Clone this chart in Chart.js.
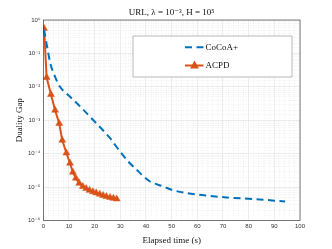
<!DOCTYPE html>
<html>
<head>
<meta charset="utf-8">
<script src="https://cdn.jsdelivr.net/npm/chart.js@4.4.0/dist/chart.umd.min.js"></script>
<style>
  html, body { margin: 0; padding: 0; background: #fff; }
  #wrap { width: 332px; height: 249px; }
</style>
</head>
<body>
<div id="wrap"><canvas id="gap-chart" width="332" height="249"></canvas></div>
<script>
// values
const cocoaTime = [0.3, 2.9, 3.9, 6.5, 9.7, 14.3, 19.5, 26, 29.9, 33.1, 36.4, 39.0, 41.6, 46.8, 50, 55.9, 61, 71.4, 81.8, 94.2];
const cocoaGap = [0.5, 0.045, 0.027, 0.01, 5.7e-3, 2.6e-3, 1.0e-3, 2.9e-4, 1.16e-4, 5.8e-5, 3.3e-5, 2.1e-5, 1.47e-5, 1.04e-5, 8.3e-6, 6.6e-6, 5.9e-6, 4.9e-6, 4.4e-6, 3.7e-6];

const acpdTime = [0.3, 1.3, 3.0, 4.6, 6.2, 7.4, 9.0, 10.4, 11.5, 12.7, 14.0, 15.4, 16.7, 18.0, 19.3, 20.6, 22.0, 23.3, 24.6, 26.0, 27.3, 28.6];
const acpdGap = [0.56, 1.9e-2, 5.9e-3, 2.0e-3, 8e-4, 2.5e-4, 1.05e-4, 5.2e-5, 2.8e-5, 1.85e-5, 1.3e-5, 1.04e-5, 9.0e-6, 8.0e-6, 7.3e-6, 6.7e-6, 6.1e-6, 5.6e-6, 5.2e-6, 4.9e-6, 4.6e-6, 4.4e-6];

const seriesNames = ["CoCoA+", "ACPD"];
const titleText = "URL, \u03bb = 10\u207b\u00b3, H = 10\u2075";

const SERIF = "'Liberation Serif', 'DejaVu Serif', serif";
const SANS = "'Liberation Sans', 'DejaVu Sans', sans-serif";
const BLUE = "#0072BD";
const ORANGE = "#D95319";

const supDigits = { "0": "\u2070", "1": "\u00b9", "2": "\u00b2", "3": "\u00b3", "4": "\u2074", "5": "\u2075", "6": "\u2076", "-": "\u207b" };
const isPower = (v) => {
  const e = Math.round(Math.log10(v));
  return Math.abs(v - Math.pow(10, e)) < 1e-9 * Math.pow(10, e);
};
const powerLabel = (v) => {
  if (!isPower(v)) return "";
  const e = Math.round(Math.log10(v));
  return "10" + String(e).split("").map((c) => supDigits[c]).join("");
};

const toPoints = (xs, ys) => xs.map((x, i) => ({ x: x, y: ys[i] }));

// box around the axes, title and the legend drawn inside the plot
const matlabFrame = {
  id: "matlabFrame",
  afterDraw(chart) {
    const { ctx, chartArea: a } = chart;
    ctx.save();
    ctx.strokeStyle = "#262626";
    ctx.lineWidth = 0.6;
    ctx.strokeRect(a.left, a.top, a.right - a.left, a.bottom - a.top);

    ctx.fillStyle = "#111";
    ctx.font = "9px " + SERIF;
    ctx.textAlign = "center";
    ctx.textBaseline = "middle";
    ctx.fillText(titleText, (a.left + a.right) / 2, 12.5);

    // legend
    const bx = 133, by = 36, bw = 159, bh = 41;
    ctx.fillStyle = "#fff";
    ctx.fillRect(bx, by, bw, bh);
    ctx.strokeStyle = "#8a8a8a";
    ctx.lineWidth = 0.6;
    ctx.strokeRect(bx, by, bw, bh);

    const ds = chart.data.datasets;
    const rows = [47.3, 65.5];
    ds.forEach((d, i) => {
      const y = rows[i];
      ctx.strokeStyle = d.borderColor;
      ctx.lineWidth = 2;
      ctx.setLineDash(d.borderDash || []);
      ctx.beginPath();
      ctx.moveTo(185, y);
      ctx.lineTo(203.5, y);
      ctx.stroke();
      ctx.setLineDash([]);
      if (d.pointStyle === "triangle") {
        ctx.fillStyle = d.pointBackgroundColor;
        ctx.beginPath();
        ctx.moveTo(194.5, y - 5);
        ctx.lineTo(199, y + 3);
        ctx.lineTo(190, y + 3);
        ctx.closePath();
        ctx.fill();
      }
      ctx.fillStyle = "#111";
      ctx.font = "9px " + SERIF;
      ctx.textAlign = "left";
      ctx.fillText(d.label, 205.5, y + 0.5);
    });
    ctx.restore();
  }
};

const ctx = document.getElementById("gap-chart").getContext("2d");
new Chart(ctx, {
  type: "line",
  data: {
    datasets: [
      {
        label: seriesNames[0],
        data: toPoints(cocoaTime, cocoaGap),
        borderColor: BLUE,
        backgroundColor: BLUE,
        borderWidth: 2,
        borderDash: [7, 4.5],
        pointRadius: 0,
        cubicInterpolationMode: "monotone"
      },
      {
        label: seriesNames[1],
        data: toPoints(acpdTime, acpdGap),
        borderColor: ORANGE,
        backgroundColor: ORANGE,
        pointBackgroundColor: ORANGE,
        pointBorderColor: ORANGE,
        borderWidth: 2,
        pointStyle: "triangle",
        pointRadius: 4,
        pointBorderWidth: 0.5,
        tension: 0
      }
    ]
  },
  options: {
    responsive: false,
    animation: false,
    layout: { padding: { top: 20, right: 32, left: 0, bottom: 0 } },
    plugins: {
      legend: { display: false },
      title: { display: false },
      tooltip: { enabled: false }
    },
    scales: {
      x: {
        type: "linear",
        min: 0,
        max: 100,
        afterFit: (scale) => { scale.height = 28.5; },
        ticks: {
          stepSize: 2,
          autoSkip: false,
          maxRotation: 0,
          padding: 2,
          color: "#333",
          font: { family: SANS, size: 6 },
          callback: (v) => (v % 10 === 0 ? String(v) : "")
        },
        grid: {
          drawTicks: false,
          color: (c) => (c.tick && c.tick.value % 10 === 0 ? "#e0e0e0" : "#e8e8e8"),
          lineWidth: 0.6
        },
        border: {
          display: false,
          dash: (c) => (c.tick && c.tick.value % 10 === 0 ? [] : [1, 1.5])
        },
        title: {
          display: true,
          text: "Elapsed time (s)",
          color: "#111",
          font: { family: SERIF, size: 9 },
          padding: { top: 0, bottom: 3 }
        }
      },
      y: {
        type: "logarithmic",
        min: 1e-6,
        max: 1,
        afterFit: (scale) => { scale.width = 43.3; },
        ticks: {
          autoSkip: false,
          padding: 3,
          color: "#333",
          font: { family: SANS, size: 6 },
          callback: (v) => powerLabel(v)
        },
        grid: {
          drawTicks: false,
          color: (c) => (c.tick && isPower(c.tick.value) ? "#e0e0e0" : "#e8e8e8"),
          lineWidth: 0.6
        },
        border: {
          display: false,
          dash: (c) => (c.tick && isPower(c.tick.value) ? [] : [1, 1.5])
        },
        title: {
          display: true,
          text: "Duality Gap",
          color: "#111",
          font: { family: SERIF, size: 9 },
          padding: { top: 14, bottom: 0 }
        }
      }
    }
  },
  plugins: [matlabFrame]
});
</script>
</body>
</html>
